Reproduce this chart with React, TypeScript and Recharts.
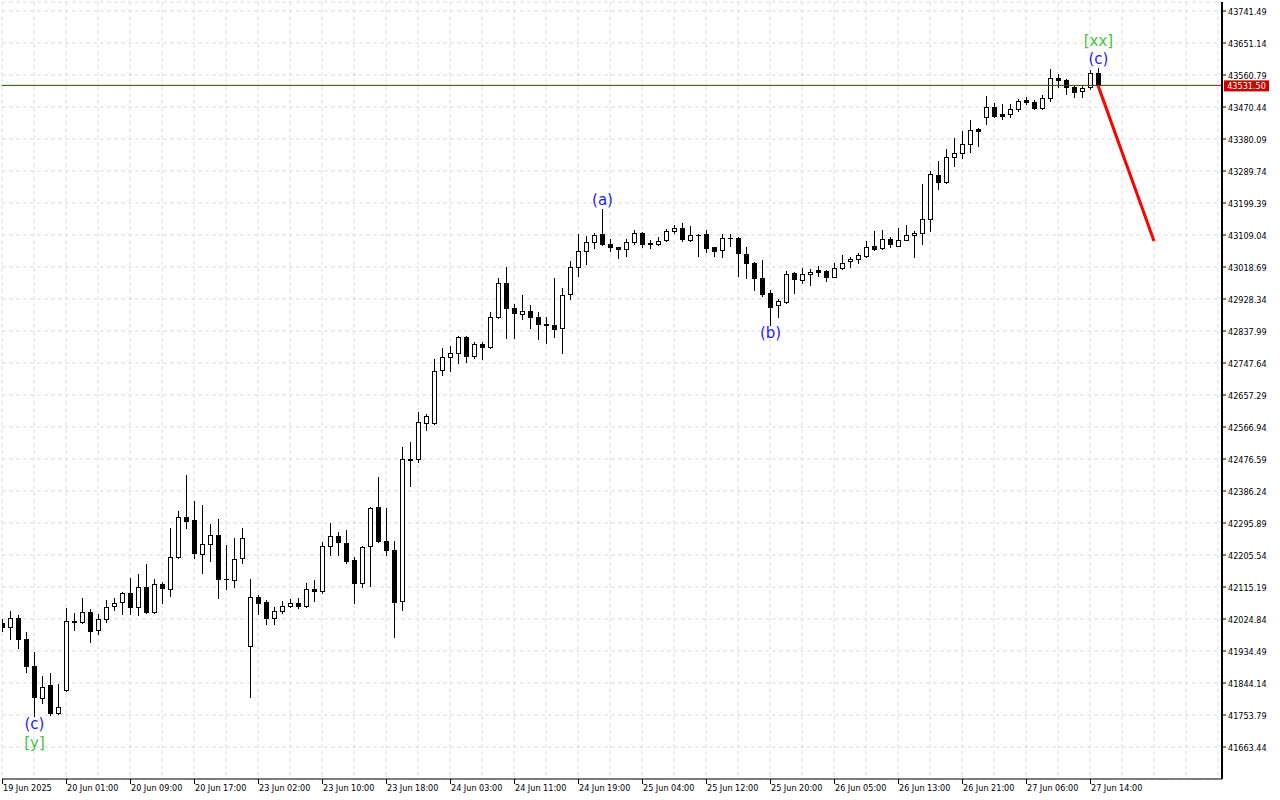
import { ComposedChart, Bar, Line, Scatter, XAxis, YAxis, CartesianGrid, ReferenceLine } from 'recharts';

// hourly candles, index 0 = first bar at the left edge
const openVals = [
  42014, 42003, 42029, 41968, 41892, 41801, 41838, 41759, 41824, 42020,
  42015, 42044, 41994, 42025, 42062, 42072, 42097, 42058, 42115, 42046,
  42123, 42109, 42199, 42312, 42304, 42207, 42236, 42261, 42137, 42135,
  42196, 41949, 42086, 42072, 42027, 42047, 42061, 42069, 42062, 42110,
  42103, 42230, 42258, 42239, 42191, 42126, 42230, 42340, 42244, 42221,
  42076, 42477, 42476, 42578, 42577, 42727, 42764, 42775, 42820, 42768,
  42800, 42793, 42877, 42973, 42904, 42885, 42894, 42877, 42859, 42854,
  42846, 42942, 43018, 43063, 43088, 43112, 43084, 43074, 43069, 43090,
  43114, 43086, 43083, 43095, 43121, 43128, 43094, 43109, 43112, 43074,
  43067, 43101, 43100, 43055, 43031, 42987, 42944, 42911, 42919, 43003,
  42982, 42998, 43010, 43008, 42991, 43015, 43036, 43040, 43049, 43077,
  43071, 43097, 43079, 43095, 43109, 43114, 43153, 43278, 43259, 43330,
  43340, 43365, 43408, 43441, 43470, 43451, 43450, 43464, 43490, 43485,
  43467, 43495, 43553, 43547, 43526, 43516, 43526, 43567,
];
const highVals = [
  42025, 42047, 42036, 41987, 41933, 41864, 41872, 41840, 42055, 42041,
  42083, 42052, 42038, 42078, 42083, 42102, 42141, 42152, 42181, 42138,
  42130, 42281, 42330, 42431, 42358, 42347, 42292, 42306, 42234, 42253,
  42283, 42138, 42093, 42078, 42060, 42076, 42081, 42083, 42126, 42135,
  42241, 42297, 42270, 42276, 42199, 42232, 42340, 42425, 42337, 42246,
  42510, 42524, 42608, 42603, 42759, 42790, 42796, 42824, 42824, 42808,
  42808, 42892, 42987, 43018, 42914, 42940, 42911, 42892, 42878, 42987,
  42959, 43036, 43112, 43106, 43114, 43182, 43097, 43076, 43097, 43123,
  43117, 43095, 43104, 43125, 43137, 43142, 43135, 43112, 43123, 43076,
  43112, 43112, 43104, 43074, 43034, 43038, 42954, 42928, 43007, 43005,
  43015, 43013, 43022, 43009, 43029, 43053, 43047, 43057, 43092, 43119,
  43123, 43102, 43128, 43136, 43119, 43253, 43290, 43318, 43351, 43383,
  43403, 43434, 43410, 43502, 43481, 43479, 43479, 43493, 43500, 43490,
  43504, 43578, 43563, 43550, 43533, 43530, 43576, 43581,
];
const lowVals = [
  41991, 41968, 41944, 41876, 41751, 41787, 41754, 41756, 41822, 41994,
  42013, 41959, 41982, 42015, 42050, 42038, 42038, 42036, 42041, 42041,
  42071, 42091, 42198, 42281, 42198, 42154, 42189, 42085, 42109, 42116,
  42183, 41805, 42038, 42010, 42010, 42041, 42058, 42057, 42060, 42077,
  42097, 42206, 42206, 42184, 42069, 42114, 42119, 42243, 42205, 41975,
  42050, 42401, 42469, 42558, 42574, 42714, 42726, 42749, 42751, 42763,
  42759, 42791, 42875, 42819, 42819, 42872, 42847, 42815, 42805, 42822,
  42777, 42928, 42994, 43026, 43071, 43082, 43065, 43044, 43049, 43083,
  43076, 43073, 43082, 43093, 43114, 43093, 43093, 43051, 43062, 43049,
  43047, 43079, 42994, 42987, 42954, 42938, 42855, 42878, 42917, 42946,
  42973, 42969, 42994, 42980, 42990, 43014, 43018, 43029, 43046, 43068,
  43070, 43074, 43078, 43094, 43046, 43083, 43119, 43238, 43257, 43305,
  43327, 43344, 43361, 43422, 43441, 43437, 43441, 43459, 43479, 43466,
  43466, 43488, 43528, 43506, 43500, 43500, 43521, 43530,
];
const closeVals = [
  42002, 42027, 41968, 41893, 41804, 41834, 41760, 41777, 42020, 42015,
  42044, 41992, 42024, 42060, 42071, 42097, 42058, 42114, 42046, 42123,
  42112, 42201, 42312, 42302, 42212, 42236, 42261, 42137, 42138, 42193,
  42253, 42086, 42071, 42027, 42047, 42061, 42069, 42062, 42110, 42103,
  42230, 42258, 42241, 42190, 42127, 42227, 42337, 42244, 42221, 42074,
  42476, 42474, 42580, 42598, 42724, 42764, 42775, 42820, 42768, 42800,
  42793, 42877, 42973, 42904, 42888, 42894, 42877, 42858, 42854, 42843,
  42939, 43018, 43063, 43088, 43109, 43083, 43076, 43069, 43090, 43114,
  43083, 43085, 43093, 43121, 43128, 43097, 43109, 43108, 43072, 43065,
  43101, 43100, 43057, 43029, 42987, 42942, 42907, 42923, 42998, 42985,
  42998, 43005, 43005, 42991, 43015, 43031, 43041, 43052, 43076, 43069,
  43097, 43083, 43095, 43108, 43114, 43153, 43280, 43259, 43330, 43340,
  43365, 43405, 43403, 43470, 43446, 43446, 43464, 43488, 43485, 43467,
  43495, 43552, 43546, 43526, 43512, 43523, 43567, 43531.5,
];

const dateLabels = [
  '19 Jun 2025', '20 Jun 01:00', '20 Jun 09:00', '20 Jun 17:00', '23 Jun 02:00', '23 Jun 10:00',
  '23 Jun 18:00', '24 Jun 03:00', '24 Jun 11:00', '24 Jun 19:00', '25 Jun 04:00', '25 Jun 12:00',
  '25 Jun 20:00', '26 Jun 05:00', '26 Jun 13:00', '26 Jun 21:00', '27 Jun 06:00', '27 Jun 14:00',
];
const priceTicks = [
  41663.44, 41753.79, 41844.14, 41934.49, 42024.84, 42115.19, 42205.54, 42295.89,
  42386.24, 42476.59, 42566.94, 42657.29, 42747.64, 42837.99, 42928.34, 43018.69,
  43109.04, 43199.39, 43289.74, 43380.09, 43470.44, 43560.79, 43651.14, 43741.49,
];
const lastPrice = 43531.5;

// projected move after the last bar
const forecastIdx = [137, 144];
const forecastVal = [43531.5, 43092];

// wave marks: bar index, text, which side of the bar
const waveIdx = [4, 4, 75, 96, 137, 137];
const waveText = ['(c)', '[y]', '(a)', '(b)', '(c)', '[xx]'];
const waveSide = ['below', 'below', 'above', 'below', 'above', 'above'];
const waveLevel = [0, 1, 0, 0, 0, 1];

const BLUE = '#1c1cff';
const GREEN = '#44c43c';
const TICK_FONT = '"DejaVu Sans Condensed", "Liberation Sans", sans-serif';
const Y_MIN = 41573.09;
const Y_MAX = 43766.9;

const candles = openVals.map((open, i) => ({
  i,
  open,
  high: highVals[i],
  low: lowVals[i],
  close: closeVals[i],
}));

const forecast = forecastIdx.map((i, k) => ({ i, f: forecastVal[k] }));

const waves = waveIdx.map((i, k) => ({
  i,
  v: waveSide[k] === 'above' ? highVals[i] : lowVals[i],
  text: waveText[k],
  side: waveSide[k],
  level: waveLevel[k],
}));

const xTicks: number[] = [];
for (let t = 0; t <= 152; t += 4) xTicks.push(t);

function Candle(props: any) {
  const { x, y, width, height, payload } = props;
  if (!payload || height == null) return null;
  const cx = Math.round(x + width / 2);
  const top = Math.min(y, y + height);
  const bot = Math.max(y, y + height);
  const span = payload.high - payload.low;
  const py = (v: number) => (span > 0 ? top + ((payload.high - v) / span) * (bot - top) : top);
  const yo = Math.round(py(payload.open));
  const yc = Math.round(py(payload.close));
  const bTop = Math.min(yo, yc);
  const bBot = Math.max(yo, yc);
  const up = payload.close >= payload.open;
  return (
    <g>
      <line x1={cx + 0.5} x2={cx + 0.5} y1={Math.round(top)} y2={Math.round(bot) + 1} stroke="#000" />
      {bBot - bTop < 1 ? (
        <line x1={cx - 2} x2={cx + 3} y1={bTop + 0.5} y2={bTop + 0.5} stroke="#000" />
      ) : (
        <rect x={cx - 1.5} y={bTop + 0.5} width={4} height={bBot - bTop} fill={up ? '#fff' : '#000'} stroke="#000" />
      )}
    </g>
  );
}

function WaveText(props: any) {
  const { cx, cy, payload } = props;
  if (cx == null || cy == null) return null;
  const ty = payload.side === 'above' ? cy - 9 - payload.level * 18 : cy + 8 + payload.level * 19;
  return (
    <text
      x={cx + 0.5}
      y={ty}
      textAnchor="middle"
      dominantBaseline="central"
      fontFamily='"DejaVu Sans", sans-serif'
      fontSize={15}
      fill={payload.level === 1 ? GREEN : BLUE}
    >
      {payload.text}
    </text>
  );
}

function TimeTick(props: any) {
  const { x, y, payload } = props;
  const v = payload.value;
  const k = v / 8;
  if (v % 8 !== 0 || k >= dateLabels.length) return <g />;
  return (
    <g>
      <line x1={x + 0.5} x2={x + 0.5} y1={y} y2={y + 5} stroke="#000" />
      <text x={x + 1} y={y + 12} fontSize={9} fontFamily={TICK_FONT} fill="#000">
        {dateLabels[k]}
      </text>
    </g>
  );
}

function PriceTick(props: any) {
  const { x, y, payload } = props;
  return (
    <text x={x} y={y + 4} fontSize={9} fontFamily={TICK_FONT} fill="#000">
      {Number(payload.value).toFixed(2)}
    </text>
  );
}

function PriceTag(props: any) {
  const vb = props.viewBox;
  if (!vb) return null;
  const left = vb.x + vb.width + 2;
  return (
    <g>
      <rect x={left} y={vb.y - 5} width={45} height={11} fill="#d00000" />
      <text x={left + 22.5} y={vb.y + 4} textAnchor="middle" fontSize={9} fontFamily={TICK_FONT} fill="#fff">
        {lastPrice.toFixed(2)}
      </text>
    </g>
  );
}

export default function App() {
  return (
    <div style={{ position: 'absolute', left: 0, top: 0, width: 1280, height: 800, background: '#fff' }}>
      <ComposedChart width={1280} height={800} data={candles} margin={{ top: 2, right: 0, bottom: 0, left: 2 }}>
        <CartesianGrid stroke="#dedede" strokeDasharray="4 3" />
        <XAxis
          dataKey="i"
          type="number"
          domain={[0, 152.5]}
          allowDataOverflow
          ticks={xTicks}
          interval={0}
          tick={<TimeTick />}
          tickLine={false}
          tickSize={0}
          tickMargin={0}
          axisLine={{ stroke: '#000' }}
          height={21}
        />
        <XAxis xAxisId="top" orientation="top" type="number" domain={[0, 152.5]} height={0} tick={false} tickLine={false} axisLine={{ stroke: '#000' }} />
        <YAxis
          orientation="right"
          type="number"
          domain={[Y_MIN, Y_MAX]}
          allowDataOverflow
          ticks={priceTicks}
          interval={0}
          tick={<PriceTick />}
          tickSize={4}
          tickMargin={2}
          tickLine={{ stroke: '#000' }}
          axisLine={{ stroke: '#000', strokeWidth: 2 }}
          width={58}
        />
        <YAxis yAxisId="left" orientation="left" type="number" domain={[Y_MIN, Y_MAX]} width={0} tick={false} tickLine={false} axisLine={{ stroke: '#000' }} />
        <ReferenceLine y={lastPrice} stroke="#b00000" strokeWidth={1} label={{ content: PriceTag }} />
        <Bar dataKey={(d: any) => [d.low, d.high]} barSize={5} shape={Candle} isAnimationActive={false} />
        <Line data={forecast} dataKey="f" stroke="#ff0000" strokeWidth={3} dot={false} isAnimationActive={false} />
        <Scatter data={waves} dataKey="v" shape={WaveText} isAnimationActive={false} />
      </ComposedChart>
    </div>
  );
}
